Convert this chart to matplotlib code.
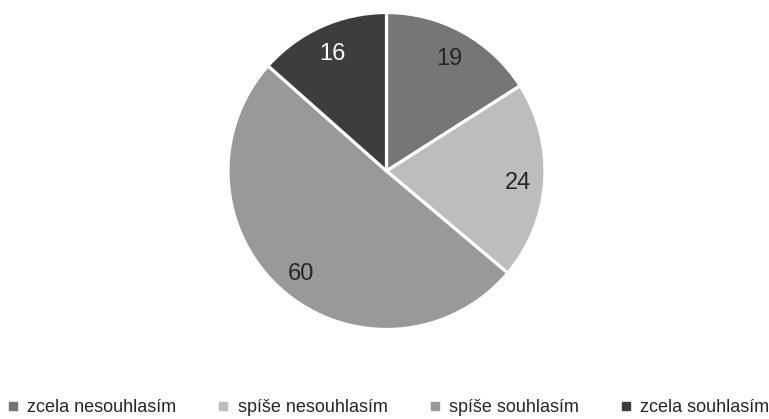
import matplotlib
matplotlib.use("Agg")
import matplotlib.pyplot as plt
from matplotlib.lines import Line2D

# data
categories = ["zcela nesouhlasím", "spíše nesouhlasím", "spíše souhlasím", "zcela souhlasím"]
values = [19, 24, 60, 16]
colors = ["#767676", "#bdbdbd", "#9a9999", "#3e3c3d"]
text_colors = ["#262626", "#262626", "#262626", "#ffffff"]

plt.rcParams["font.family"] = ["Liberation Sans Narrow", "Liberation Sans", "DejaVu Sans"]

fig = plt.figure(figsize=(7.69, 4.19), dpi=100)
ax = fig.add_axes([0.2965, 0.2136, 0.4122, 0.7566])

wedges, texts, autotexts = ax.pie(
    values, colors=colors, startangle=90, counterclock=False, radius=1,
    autopct=lambda p: "%d" % round(p * sum(values) / 100),
    pctdistance=0.83,
    wedgeprops=dict(edgecolor="white", linewidth=2.3),
)
for t, c in zip(autotexts, text_colors):
    t.set_color(c)
    t.set_fontsize(17)
    x, y = t.get_position()
    t.set_position((x, y - 0.02))

ax.set_xlim(-1, 1)
ax.set_ylim(-1, 1)
ax.set_aspect("equal")
ax.axis("off")

handles = [Line2D([], [], marker="s", linestyle="none", markersize=6,
                  markerfacecolor=c, markeredgecolor=c) for c in colors]
fig.legend(handles, categories, loc="center", bbox_to_anchor=(0.505, 0.027),
           ncol=4, frameon=False, fontsize=13, handlelength=0.6,
           handletextpad=0.5, columnspacing=2.3, labelcolor="#262626")

fig.savefig("out.png", dpi=100)
